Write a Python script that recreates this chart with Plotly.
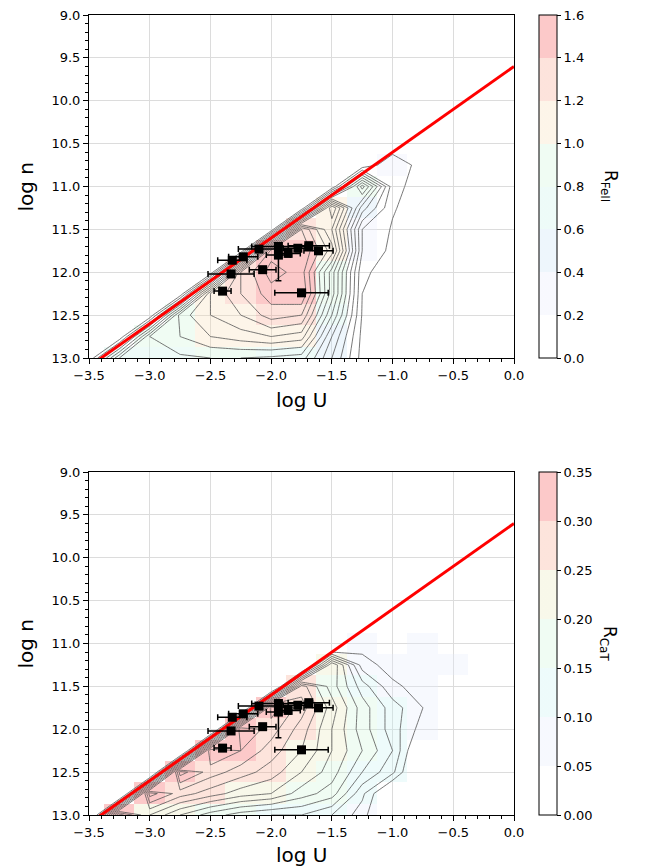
import plotly.graph_objects as go

# ---------------- data ----------------
logU = [-3.5, -3.25, -3.0, -2.75, -2.5, -2.25, -2.0, -1.75, -1.5, -1.25, -1.0, -0.75, -0.5, -0.25, 0.0]
logn = [9.0, 9.25, 9.5, 9.75, 10.0, 10.25, 10.5, 10.75, 11.0, 11.25, 11.5, 11.75, 12.0, 12.25, 12.5, 12.75, 13.0]

# R_FeII grid (rows: logn, cols: logU)
R_FeII = [
    [0, 0, 0, 0, 0, 0, 0, 0, 0, 0, 0, 0, 0, 0, 0],
    [0, 0, 0, 0, 0, 0, 0, 0, 0, 0, 0, 0, 0, 0, 0],
    [0, 0, 0, 0, 0, 0, 0, 0, 0, 0, 0, 0, 0, 0, 0],
    [0, 0, 0, 0, 0, 0, 0, 0, 0, 0, 0, 0, 0, 0, 0.02],
    [0, 0, 0, 0, 0, 0, 0, 0, 0, 0, 0, 0, 0, 0.02, 0.02],
    [0, 0, 0, 0, 0, 0, 0, 0, 0, 0, 0, 0, 0.02, 0.02, 0.02],
    [0, 0, 0, 0, 0, 0, 0, 0, 0, 0, 0, 0.03, 0.02, 0.02, 0.02],
    [0, 0, 0, 0, 0, 0, 0, 0, 0, 0, 0.20, 0.04, 0.02, 0.02, 0.02],
    [0, 0, 0, 0, 0, 0, 0, 0, 0, 0.85, 0.14, 0.04, 0.02, 0.02, 0.02],
    [0, 0, 0, 0, 0, 0, 0, 0, 1.20, 0.45, 0.11, 0.04, 0.02, 0.02, 0.02],
    [0, 0, 0, 0, 0, 0, 0, 1.40, 1.00, 0.20, 0.09, 0.03, 0.02, 0.02, 0.02],
    [0, 0, 0, 0, 0, 0, 1.45, 1.50, 1.15, 0.20, 0.07, 0.03, 0.02, 0.02, 0.02],
    [0, 0, 0, 0, 0, 1.30, 1.55, 1.45, 0.85, 0.12, 0.05, 0.03, 0.02, 0.02, 0.02],
    [0, 0, 0, 0, 1.10, 1.30, 1.45, 1.50, 0.85, 0.10, 0.04, 0.02, 0.02, 0.02, 0.02],
    [0, 0, 0, 0.95, 1.10, 1.20, 1.35, 1.30, 0.70, 0.09, 0.03, 0.02, 0.02, 0.02, 0.02],
    [0, 0, 0.80, 0.90, 1.00, 1.05, 1.10, 1.05, 0.50, 0.07, 0.03, 0.02, 0.02, 0.02, 0.02],
    [0, 0.70, 0.75, 0.78, 0.80, 0.80, 0.78, 0.75, 0.40, 0.06, 0.02, 0.02, 0.02, 0.02, 0.02],
]

# R_CaT grid (rows: logn, cols: logU)
R_CaT = [
    [0, 0, 0, 0, 0, 0, 0, 0, 0, 0, 0, 0, 0, 0, 0],
    [0, 0, 0, 0, 0, 0, 0, 0, 0, 0, 0, 0, 0, 0, 0],
    [0, 0, 0, 0, 0, 0, 0, 0, 0, 0, 0, 0, 0, 0, 0],
    [0, 0, 0, 0, 0, 0, 0, 0, 0, 0, 0, 0, 0, 0, 0.02],
    [0, 0, 0, 0, 0, 0, 0, 0, 0, 0, 0, 0, 0, 0.02, 0.02],
    [0, 0, 0, 0, 0, 0, 0, 0, 0, 0, 0, 0, 0.02, 0.02, 0.02],
    [0, 0, 0, 0, 0, 0, 0, 0, 0, 0, 0, 0.02, 0.02, 0.02, 0.02],
    [0, 0, 0, 0, 0, 0, 0, 0, 0, 0, 0.03, 0.03, 0.02, 0.02, 0.02],
    [0, 0, 0, 0, 0, 0, 0, 0, 0, 0.07, 0.03, 0.07, 0.02, 0.02, 0.02],
    [0, 0, 0, 0, 0, 0, 0, 0, 0.20, 0.09, 0.07, 0.07, 0.06, 0.02, 0.02],
    [0, 0, 0, 0, 0, 0, 0, 0.25, 0.19, 0.13, 0.085, 0.07, 0.03, 0.02, 0.02],
    [0, 0, 0, 0, 0, 0, 0.31, 0.27, 0.21, 0.15, 0.11, 0.08, 0.03, 0.02, 0.02],
    [0, 0, 0, 0, 0, 0.32, 0.29, 0.25, 0.20, 0.15, 0.11, 0.07, 0.03, 0.02, 0.02],
    [0, 0, 0, 0, 0.32, 0.30, 0.27, 0.24, 0.20, 0.16, 0.12, 0.04, 0.02, 0.02, 0.02],
    [0, 0, 0, 0.33, 0.29, 0.27, 0.25, 0.22, 0.19, 0.14, 0.105, 0.03, 0.02, 0.02, 0.02],
    [0, 0, 0.31, 0.27, 0.25, 0.23, 0.22, 0.19, 0.17, 0.105, 0.04, 0.02, 0.02, 0.02, 0.02],
    [0, 0.31, 0.24, 0.20, 0.17, 0.15, 0.14, 0.14, 0.12, 0.09, 0.03, 0.02, 0.02, 0.02, 0.02],
]

# boundary line
line_logU = [-3.5, 0.0]
line_logn = [13.1, 9.6]

# observed sources
pt_logU = [-2.32, -2.23, -2.10, -1.94, -1.94, -1.86, -1.78, -1.69, -1.61, -2.07, -2.33, -2.40, -1.75]
pt_logn = [11.86, 11.82, 11.73, 11.70, 11.80, 11.78, 11.72, 11.69, 11.75, 11.97, 12.02, 12.22, 12.24]
pt_xerr = [0.12, 0.12, 0.17, 0.22, 0.10, 0.10, 0.12, 0.17, 0.12, 0.11, 0.19, 0.07, 0.22]
pt_yerr_plus = [0.03, 0.0, 0.03, 0.0, 0.30, 0.04, 0.04, 0.0, 0.0, 0.0, 0.0, 0.0, 0.0]
pt_yerr_minus = [0.03, 0.0, 0.03, 0.0, 0.14, 0.04, 0.04, 0.0, 0.0, 0.0, 0.0, 0.0, 0.0]

xtick_vals = [-3.5, -3.0, -2.5, -2.0, -1.5, -1.0, -0.5, 0.0]
xtick_text = ["\u22123.5", "\u22123.0", "\u22122.5", "\u22122.0", "\u22121.5", "\u22121.0", "\u22120.5", "0.0"]
ytick_vals = [9.0, 9.5, 10.0, 10.5, 11.0, 11.5, 12.0, 12.5, 13.0]
ytick_text = ["9.0", "9.5", "10.0", "10.5", "11.0", "11.5", "12.0", "12.5", "13.0"]

feii_ticks = [0.0, 0.2, 0.4, 0.6, 0.8, 1.0, 1.2, 1.4, 1.6]
feii_ticktext = ["0.0", "0.2", "0.4", "0.6", "0.8", "1.0", "1.2", "1.4", "1.6"]
cat_ticks = [0.0, 0.05, 0.10, 0.15, 0.20, 0.25, 0.30, 0.35]
cat_ticktext = ["0.00", "0.05", "0.10", "0.15", "0.20", "0.25", "0.30", "0.35"]

# translucent bin colours (alpha 0.3 over white)
feii_colors = ["rgba(255,255,255,0)", "rgba(232,235,252,0.3)", "rgba(198,225,245,0.3)",
               "rgba(198,242,232,0.3)", "rgba(205,245,215,0.3)", "rgba(248,222,182,0.3)",
               "rgba(248,162,138,0.3)", "rgba(245,75,75,0.3)"]
cat_colors = ["rgba(255,255,255,0)", "rgba(228,235,252,0.3)", "rgba(198,242,242,0.3)",
              "rgba(205,245,215,0.3)", "rgba(232,232,185,0.3)", "rgba(248,165,138,0.3)",
              "rgba(245,75,75,0.3)"]


def discrete_scale(colors):
    n = len(colors)
    sc = []
    for i, c in enumerate(colors):
        sc.append([i / n, c])
        sc.append([(i + 1) / n, c])
    return sc


W, H = 652, 867
FONT = "DejaVu Sans"
X0, X1 = 89, 514
panels = [(15, 358), (472, 815)]


def fx(p):
    return p / W


def fy(p):
    return 1 - p / H


fig = go.Figure()

specs = [
    (R_FeII, feii_colors, 0.0, 1.6, feii_ticks, feii_ticktext, 0.1, 1.5, 0.1, "x", "y"),
    (R_CaT, cat_colors, 0.0, 0.35, cat_ticks, cat_ticktext, 0.08, 0.34, 0.02, "x2", "y2"),
]

for k, (z, cols, zmin, zmax, tv, tt, cs, ce, csz, xa, ya) in enumerate(specs):
    top, bot = panels[k]
    fig.add_trace(go.Heatmap(
        x=logU, y=logn, z=z, xaxis=xa, yaxis=ya,
        colorscale=discrete_scale(cols), zmin=zmin, zmax=zmax,
        hoverinfo="skip",
        colorbar=dict(
            x=fx(539), xanchor="left", y=fy(top), yanchor="top",
            len=(bot - top) / H, lenmode="fraction", thickness=18,
            xpad=0, ypad=0, outlinewidth=1, outlinecolor="black",
            ticks="outside", ticklen=4, tickwidth=1, tickcolor="black",
            tickvals=tv, ticktext=tt,
            tickfont=dict(family=FONT, size=13, color="black"),
        ),
    ))
    fig.add_trace(go.Contour(
        x=logU, y=logn, z=z, xaxis=xa, yaxis=ya,
        contours=dict(start=cs, end=ce, size=csz, coloring="none"),
        line=dict(color="#555555", width=0.8, smoothing=0),
        showscale=False, hoverinfo="skip",
    ))
    fig.add_trace(go.Scatter(
        x=line_logU, y=line_logn, xaxis=xa, yaxis=ya, mode="lines",
        line=dict(color="red", width=3), hoverinfo="skip", showlegend=False,
    ))
    fig.add_trace(go.Scatter(
        x=pt_logU, y=pt_logn, xaxis=xa, yaxis=ya, mode="markers",
        marker=dict(symbol="square", size=9, color="black"),
        error_x=dict(type="data", array=pt_xerr, color="black", thickness=1.5, width=3),
        error_y=dict(type="data", array=pt_yerr_plus, arrayminus=pt_yerr_minus,
                     color="black", thickness=1.5, width=3),
        showlegend=False, hoverinfo="skip",
    ))

axis_common = dict(
    showline=True, linecolor="black", linewidth=1, mirror=True,
    ticks="outside", ticklen=5, tickwidth=1, tickcolor="black",
    showgrid=True, gridcolor="#dcdcdc", gridwidth=1, zeroline=False,
    tickfont=dict(family=FONT, size=13, color="black"),
    minor=dict(ticks="outside", ticklen=3, tickwidth=0.8, tickcolor="black", dtick=0.1, showgrid=False),
)

layout = dict(
    width=W, height=H, margin=dict(l=0, r=0, t=0, b=0, autoexpand=False),
    paper_bgcolor="white", plot_bgcolor="white", showlegend=False,
    font=dict(family=FONT, color="black"),
)
for k, (xa, ya) in enumerate([("xaxis", "yaxis"), ("xaxis2", "yaxis2")]):
    top, bot = panels[k]
    layout[xa] = dict(axis_common, domain=[fx(X0), fx(X1)], range=[-3.5, 0.0],
                      tickvals=xtick_vals, ticktext=xtick_text,
                      anchor="y" if k == 0 else "y2", automargin=False)
    layout[ya] = dict(axis_common, domain=[fy(bot), fy(top)], range=[13.0, 9.0],
                      tickvals=ytick_vals, ticktext=ytick_text,
                      anchor="x" if k == 0 else "x2", automargin=False)
fig.update_layout(**layout)

ann = []
for k, (top, bot) in enumerate(panels):
    ann.append(dict(x=fx(25), y=fy((top + bot) / 2), xref="paper", yref="paper",
                    xanchor="center", yanchor="middle",
                    text="log n", textangle=-90, showarrow=False,
                    font=dict(family=FONT, size=20, color="black")))
    ann.append(dict(x=fx((X0 + X1) / 2), y=fy(bot + (42 if k == 0 else 40)),
                    xref="paper", yref="paper",
                    xanchor="center", yanchor="middle",
                    text="log U", showarrow=False,
                    font=dict(family=FONT, size=20, color="black")))
ann.append(dict(x=fx(609), y=fy(186), xref="paper", yref="paper",
                xanchor="center", yanchor="middle",
                text="R<sub>FeII</sub>", textangle=90, showarrow=False,
                font=dict(family=FONT, size=17, color="black")))
ann.append(dict(x=fx(609), y=fy(643), xref="paper", yref="paper",
                xanchor="center", yanchor="middle",
                text="R<sub>CaT</sub>", textangle=90, showarrow=False,
                font=dict(family=FONT, size=17, color="black")))
fig.update_layout(annotations=ann)

fig.write_html("out.html")
